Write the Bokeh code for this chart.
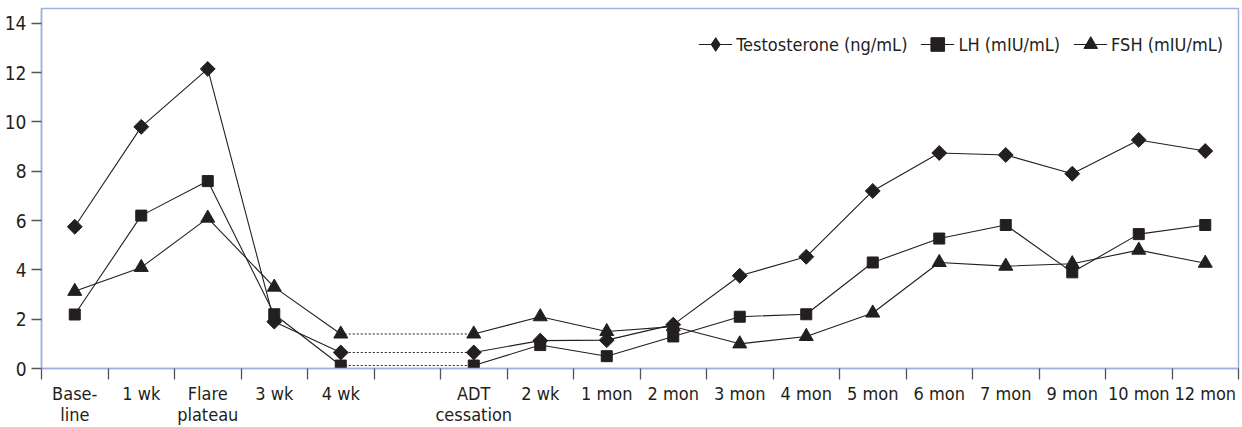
import numpy as np
from bokeh.plotting import figure
from bokeh.models import FixedTicker, Legend, LegendItem, Range1d
from bokeh.embed import file_html
from bokeh.resources import INLINE

NaN = float("nan")

categories = ["Base-\nline", "1 wk", "Flare\nplateau", "3 wk", "4 wk", "",
              "ADT\ncessation", "2 wk", "1 mon", "2 mon", "3 mon", "4 mon",
              "5 mon", "6 mon", "7 mon", "9 mon", "10 mon", "12 mon"]
testosterone = [5.75, 9.8, 12.15, 1.9, 0.65, NaN, 0.65, 1.13, 1.15, 1.78,
                3.76, 4.53, 7.2, 8.74, 8.66, 7.9, 9.27, 8.82]
lh = [2.19, 6.2, 7.6, 2.2, 0.12, NaN, 0.12, 0.95, 0.5, 1.3,
      2.1, 2.2, 4.3, 5.27, 5.82, 3.9, 5.45, 5.82]
fsh = [3.13, 4.1, 6.1, 3.3, 1.4, NaN, 1.4, 2.1, 1.5, 1.7,
       1.0, 1.3, 2.25, 4.3, 4.15, 4.25, 4.8, 4.27]
series_names = ["Testosterone (ng/mL)", "LH (mIU/mL)", "FSH (mIU/mL)"]
y_ticks = [0, 2, 4, 6, 8, 10, 12, 14]
gap_from, gap_to = 4, 6  # dotted connection over the ADT interval

FONT = "DejaVu Sans Condensed"
TXT = "#231f20"
FRAME = "#9fb2d9"

x = list(range(len(categories)))

p = figure(width=1242, height=427, output_backend="svg", toolbar_location=None,
           x_range=Range1d(-0.5, len(categories) - 0.5), y_range=Range1d(0, 14.6),
           min_border_left=41, min_border_right=4, min_border_top=8, min_border_bottom=58)
p.xgrid.visible = False
p.ygrid.visible = False
p.outline_line_color = FRAME
p.outline_line_width = 1.5

# x axis
p.xaxis.ticker = FixedTicker(ticks=x, minor_ticks=[i - 0.5 for i in range(len(categories) + 1)])
p.xaxis.major_label_overrides = {i: c for i, c in enumerate(categories)}
p.xaxis.major_tick_out = 0
p.xaxis.major_tick_in = 0
p.xaxis.minor_tick_out = 11
p.xaxis.minor_tick_in = 0
p.xaxis.minor_tick_line_color = "#555555"
p.xaxis.minor_tick_line_width = 1.3
p.xaxis.axis_line_color = FRAME
p.xaxis.axis_line_width = 1.5
p.xaxis.major_label_standoff = 3
p.xaxis.major_label_text_font = FONT
p.xaxis.major_label_text_font_size = "18px"
p.xaxis.major_label_text_color = TXT
p.xaxis.major_label_text_line_height = 1.0

# y axis
p.yaxis.ticker = FixedTicker(ticks=y_ticks, minor_ticks=[])
p.yaxis.major_tick_out = 10
p.yaxis.major_tick_in = 0
p.yaxis.major_tick_line_color = "#555555"
p.yaxis.major_tick_line_width = 1.3
p.yaxis.axis_line_color = FRAME
p.yaxis.axis_line_width = 1.5
p.yaxis.major_label_standoff = 5
p.yaxis.major_label_text_font = FONT
p.yaxis.major_label_text_font_size = "19px"
p.yaxis.major_label_text_color = TXT

items = []
specs = [(testosterone, "square", 10.5, np.pi / 4, "diamond"),
         (lh, "square", 11, 0.0, "square"),
         (fsh, "triangle", 14, 0.0, "triangle")]
for (vals, marker, size, ang, lmarker), name in zip(specs, series_names):
    ln = p.line(x, vals, line_color=TXT, line_width=1.1)
    p.line([x[gap_from], x[gap_to]], [vals[gap_from], vals[gap_to]],
           line_color=TXT, line_width=1.1, line_dash="2 2")
    p.scatter(x, vals, marker=marker, size=size, angle=ang,
              fill_color=TXT, line_color=TXT)
    # legend-only key (no visible point in the plot)
    key = p.scatter([NaN], [NaN], marker=lmarker, size=size, fill_color=TXT, line_color=TXT)
    items.append(LegendItem(label=name, renderers=[ln, key]))

legend = Legend(items=items, orientation="horizontal", location="top_right",
                margin=15, padding=15, spacing=13, glyph_width=34, glyph_height=42,
                label_standoff=4, label_text_font=FONT, label_text_font_size="18px",
                label_text_color=TXT, border_line_color=None, background_fill_alpha=0)
p.add_layout(legend)

open("out.html", "w").write(file_html(p, INLINE))
